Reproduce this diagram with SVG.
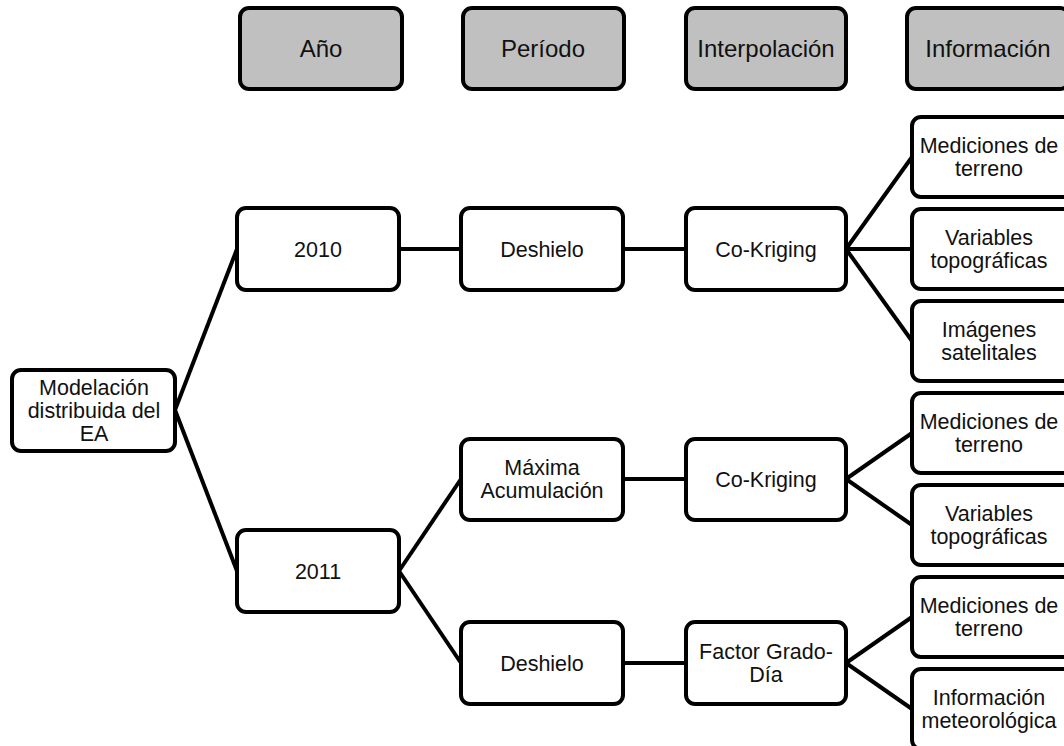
<svg xmlns="http://www.w3.org/2000/svg" width="1064" height="746" viewBox="0 0 1064 746">
<style>
.box{fill:#fff;stroke:#000;stroke-width:4}
.hdr{fill:#c0c0c0;stroke:#000;stroke-width:4}
text{font-family:"Liberation Sans",Arial,sans-serif;font-size:21.5px;fill:#111;text-anchor:middle}
.h{font-size:24px}
.c{stroke:#000;stroke-width:4;fill:none}
</style>
<rect width="1064" height="746" fill="#fff"/>
<g id="connectors">
<line class="c" x1="175" y1="410" x2="237" y2="249"/>
<line class="c" x1="175" y1="410" x2="237" y2="571"/>
<line class="c" x1="399" y1="249" x2="461" y2="249"/>
<line class="c" x1="623" y1="249" x2="686" y2="249"/>
<line class="c" x1="846" y1="249" x2="912" y2="157"/>
<line class="c" x1="846" y1="249" x2="912" y2="249"/>
<line class="c" x1="846" y1="249" x2="912" y2="341"/>
<line class="c" x1="399" y1="571" x2="461" y2="479"/>
<line class="c" x1="399" y1="571" x2="461" y2="663"/>
<line class="c" x1="623" y1="479" x2="686" y2="479"/>
<line class="c" x1="623" y1="663" x2="686" y2="663"/>
<line class="c" x1="846" y1="479" x2="912" y2="433"/>
<line class="c" x1="846" y1="479" x2="912" y2="525"/>
<line class="c" x1="846" y1="663" x2="912" y2="617"/>
<line class="c" x1="846" y1="663" x2="912" y2="709"/>
</g>
<g id="h-ano"><rect class="hdr" x="240" y="8" width="162" height="81" rx="9"/><text class="h" x="321" y="57">Año</text></g>
<g id="h-periodo"><rect class="hdr" x="463" y="8" width="161" height="81" rx="9"/><text class="h" x="543" y="57">Período</text></g>
<g id="h-interp"><rect class="hdr" x="686" y="8" width="160" height="81" rx="9"/><text class="h" x="766" y="57">Interpolación</text></g>
<g id="h-info"><rect class="hdr" x="907" y="8" width="162" height="81" rx="9"/><text class="h" x="988" y="57">Información</text></g>
<g id="n-model"><rect class="box" x="12" y="370" width="163" height="81" rx="9"/><text x="94" y="395">Modelación</text><text x="94" y="418">distribuida del</text><text x="94" y="441">EA</text></g>
<g id="n-2010"><rect class="box" x="237" y="208" width="162" height="82" rx="9"/><text x="318" y="257">2010</text></g>
<g id="n-2011"><rect class="box" x="237" y="530" width="162" height="82" rx="9"/><text x="318" y="579">2011</text></g>
<g id="n-desh1"><rect class="box" x="461" y="208" width="162" height="82" rx="9"/><text x="542" y="257">Deshielo</text></g>
<g id="n-max"><rect class="box" x="461" y="439" width="162" height="81" rx="9"/><text x="542" y="475">Máxima</text><text x="542" y="498">Acumulación</text></g>
<g id="n-desh2"><rect class="box" x="461" y="622" width="162" height="82" rx="9"/><text x="542" y="671">Deshielo</text></g>
<g id="n-ck1"><rect class="box" x="686" y="208" width="160" height="82" rx="9"/><text x="766" y="257">Co-Kriging</text></g>
<g id="n-ck2"><rect class="box" x="686" y="439" width="160" height="81" rx="9"/><text x="766" y="487">Co-Kriging</text></g>
<g id="n-fgd"><rect class="box" x="686" y="622" width="160" height="82" rx="9"/><text x="766" y="659">Factor Grado-</text><text x="766" y="682">Día</text></g>
<g id="n-med1"><rect class="box" x="912" y="117" width="160" height="80" rx="9"/><text x="989" y="153">Mediciones de</text><text x="989" y="176">terreno</text></g>
<g id="n-var1"><rect class="box" x="912" y="209" width="160" height="80" rx="9"/><text x="989" y="245">Variables</text><text x="989" y="268">topográficas</text></g>
<g id="n-img"><rect class="box" x="912" y="301" width="160" height="80" rx="9"/><text x="989" y="337">Imágenes</text><text x="989" y="360">satelitales</text></g>
<g id="n-med2"><rect class="box" x="912" y="393" width="160" height="80" rx="9"/><text x="989" y="429">Mediciones de</text><text x="989" y="452">terreno</text></g>
<g id="n-var2"><rect class="box" x="912" y="485" width="160" height="80" rx="9"/><text x="989" y="521">Variables</text><text x="989" y="544">topográficas</text></g>
<g id="n-med3"><rect class="box" x="912" y="577" width="160" height="80" rx="9"/><text x="989" y="613">Mediciones de</text><text x="989" y="636">terreno</text></g>
<g id="n-infomet"><rect class="box" x="912" y="669" width="160" height="80" rx="9"/><text x="989" y="705">Información</text><text x="989" y="728">meteorológica</text></g>
</svg>
